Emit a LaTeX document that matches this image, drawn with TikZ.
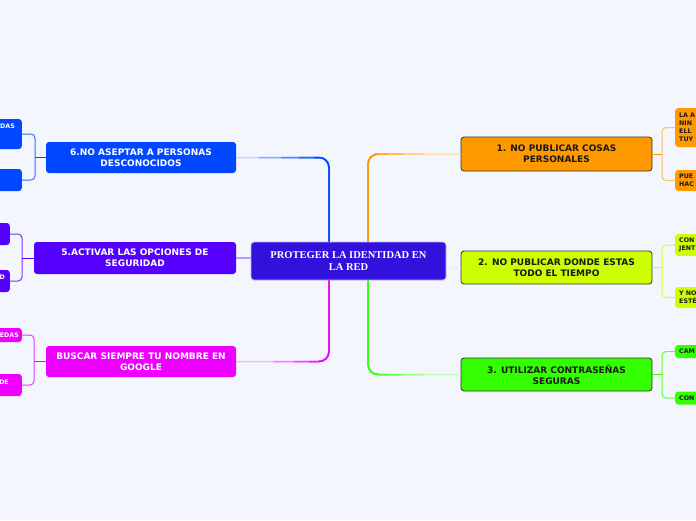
\documentclass[tikz,border=0pt]{standalone}
\usepackage{fontspec}
\setmainfont{DejaVu Sans}
\newfontfamily\serifb{Liberation Serif}
\usetikzlibrary{calc}
\definecolor{bg}{HTML}{F3F6FD}
\definecolor{cen}{HTML}{3311DD}
\definecolor{cblue}{HTML}{0047FF}
\definecolor{cviol}{HTML}{5500FF}
\definecolor{cmag}{HTML}{EE00FF}
\definecolor{corg}{HTML}{FF9900}
\definecolor{cyel}{HTML}{CCFF00}
\definecolor{cgrn}{HTML}{33FF00}
\tikzset{
  box/.style={rectangle, rounded corners=3pt, align=center, inner sep=0pt,
    font=\bfseries\fontsize{9}{11}\selectfont},
  rbox/.style={box, draw=black!80, line width=0.8pt, text=black!90},
  lbox/.style={box, text=white},
  rleaf/.style={rectangle, rounded corners=3pt, inner xsep=4pt, inner ysep=0pt,
    font=\bfseries\fontsize{6.3}{8}\selectfont, align=left, anchor=west,
    text width=52pt, text=black!90},
  lleaf/.style={rectangle, rounded corners=3pt, inner sep=0pt, anchor=east,
    minimum width=80pt},
  frag/.style={inner sep=0pt, anchor=east, text=white,
    font=\bfseries\fontsize{6.3}{8}\selectfont},
  main/.style={line width=1.5pt, rounded corners=10pt},
  twig/.style={line width=1pt, rounded corners=4pt},
}
\begin{document}
\begin{tikzpicture}[x=1pt,y=-1pt]
\useasboundingbox (0,0) rectangle (696,520);
\fill[bg] (0,0) rectangle (696,520);
\clip (0,0) rectangle (696,520);

\coordinate (jL) at (329,0);
\coordinate (jR) at (368,0);
\coordinate (jO) at (662,0);
\coordinate (jB) at (35,0);
\coordinate (jV) at (22,0);
\coordinate (jM) at (34,0);

% central
\node[rectangle, rounded corners=3pt, fill=cen, draw=cen!30, line width=0.8pt,
  minimum width=195pt, minimum height=38pt, align=center, text=white,
  font=\serifb\bfseries\fontsize{10.5}{12}\selectfont] (c) at (348.5,261)
  {PROTEGER LA IDENTIDAD EN\\LA RED};

% right branches
\node[rbox, fill=corg, minimum width=191pt, minimum height=34pt] (n1) at (556.5,154)
  {1. NO PUBLICAR COSAS\\PERSONALES};
\node[rbox, fill=cyel, minimum width=191pt, minimum height=33pt] (n2) at (556.5,267.5)
  {2. NO PUBLICAR DONDE ESTAS\\TODO EL TIEMPO};
\node[rbox, fill=cgrn, minimum width=191pt, minimum height=33pt] (n3) at (556.5,374.5)
  {3. UTILIZAR CONTRASEÑAS\\SEGURAS};

% left branches
\node[lbox, fill=cblue, minimum width=190pt, minimum height=31pt] (n6) at (141,157.5)
  {6.NO ASEPTAR A PERSONAS\\DESCONOCIDOS};
\node[lbox, fill=cviol, minimum width=202pt, minimum height=32pt] (n5) at (135,258)
  {5.ACTIVAR LAS OPCIONES DE\\SEGURIDAD};
\node[lbox, fill=cmag, minimum width=190pt, minimum height=31pt] (nm) at (141,361.5)
  {BUSCAR SIEMPRE TU NOMBRE EN\\GOOGLE};

% right leaves
\node[rleaf, fill=corg, minimum height=39pt] (lo1) at (675,127.5) {LA A\\NIN\\ELL\\TUY};
\node[rleaf, fill=corg, minimum height=21pt] (lo2) at (675,180.5) {PUE\\HAC};
\node[rleaf, fill=cyel, minimum height=22pt] (ly1) at (675,245) {CON\\JENT};
\node[rleaf, fill=cyel, minimum height=21pt] (ly2) at (675,297.5) {Y NO\\ESTÉ};
\node[rleaf, fill=cgrn, minimum height=13pt] (lg1) at (675,351.5) {CAM};
\node[rleaf, fill=cgrn, minimum height=13pt] (lg2) at (675,398) {CON};

% left leaves
\node[lleaf, fill=cblue, minimum height=30pt] (lb1) at (22,134) {};
\node[lleaf, fill=cblue, minimum height=22pt] (lb2) at (22,180) {};
\node[lleaf, fill=cviol, minimum height=22pt] (lv1) at (10,234) {};
\node[lleaf, fill=cviol, minimum height=22pt] (lv2) at (10,281) {};
\node[lleaf, fill=cmag, minimum height=14pt] (lm1) at (22,335) {};
\node[lleaf, fill=cmag, minimum height=22pt] (lm2) at (22,385) {};
\node[frag] (tb1) at (15,126) {DAS};
\node[frag] (tv2) at (5,277) {D};
\node[frag] (tm1) at (19,335) {EDAS};
\node[frag] (tm2) at (9,382) {DE};

% main connectors (light -> full)
\draw[main, cblue!25] (n6.east) -| (c.north -| jL);
\draw[main, cblue!45] ($(n6.east -| jL)+(-70,0)$) -| (c.north -| jL);
\draw[main, cblue!65] ($(n6.east -| jL)+(-48,0)$) -| (c.north -| jL);
\draw[main, cblue!85] ($(n6.east -| jL)+(-30,0)$) -| (c.north -| jL);
\draw[main, cblue] ($(n6.east -| jL)+(-15,0)$) -| (c.north -| jL);

\draw[main, corg!30] (c.north -| jR) |- (n1.west);
\draw[main, corg!50] (c.north -| jR) |- ($(n1.west -| jR)+(55,0)$);
\draw[main, corg!70] (c.north -| jR) |- ($(n1.west -| jR)+(35,0)$);
\draw[main, corg!85] (c.north -| jR) |- ($(n1.west -| jR)+(20,0)$);
\draw[main, corg] (c.north -| jR) |- ($(n1.west -| jR)+(10,0)$);

\draw[main, cgrn!30] (c.south -| jR) |- (n3.west);
\draw[main, cgrn!50] (c.south -| jR) |- ($(n3.west -| jR)+(55,0)$);
\draw[main, cgrn!70] (c.south -| jR) |- ($(n3.west -| jR)+(35,0)$);
\draw[main, cgrn!85] (c.south -| jR) |- ($(n3.west -| jR)+(20,0)$);
\draw[main, cgrn] (c.south -| jR) |- ($(n3.west -| jR)+(10,0)$);

\draw[main, cmag!30] (c.south -| jL) |- (nm.east);
\draw[main, cmag!50] (c.south -| jL) |- ($(nm.east -| jL)+(-55,0)$);
\draw[main, cmag!70] (c.south -| jL) |- ($(nm.east -| jL)+(-35,0)$);
\draw[main, cmag!85] (c.south -| jL) |- ($(nm.east -| jL)+(-20,0)$);
\draw[main, cmag] (c.south -| jL) |- ($(nm.east -| jL)+(-10,0)$);

\draw[main, cviol!40] (n5.east) -- (c.west |- n5.east);
\draw[main, cyel!40] (c.east |- n2.west) -- (n2.west);

% leaf connectors right
\draw[line width=1pt, corg] (n1.east) -- (n1.east -| jO);
\draw[twig, corg!60] (lo1.west) -- (lo1.west -| jO) -- (lo2.west -| jO) -- (lo2.west);
\draw[line width=1pt, cyel] (n2.east) -- (n2.east -| jO);
\draw[twig, cyel!80] (ly1.west) -- (ly1.west -| jO) -- (ly2.west -| jO) -- (ly2.west);
\draw[line width=1pt, cgrn] (n3.east) -- (n3.east -| jO);
\draw[twig, cgrn!80] (lg1.west) -- (lg1.west -| jO) -- (lg2.west -| jO) -- (lg2.west);

% leaf connectors left
\draw[line width=1pt, cblue] (n6.west) -- (n6.west -| jB);
\draw[twig, cblue!80] (lb1.east) -- (lb1.east -| jB) -- (lb2.east -| jB) -- (lb2.east);
\draw[line width=1pt, cviol] (n5.west) -- (n5.west -| jV);
\draw[twig, cviol!80] (lv1.east) -- (lv1.east -| jV) -- (lv2.east -| jV) -- (lv2.east);
\draw[line width=1pt, cmag] (nm.west) -- (nm.west -| jM);
\draw[twig, cmag!80] (lm1.east) -- (lm1.east -| jM) -- (lm2.east -| jM) -- (lm2.east);
\end{tikzpicture}
\end{document}
